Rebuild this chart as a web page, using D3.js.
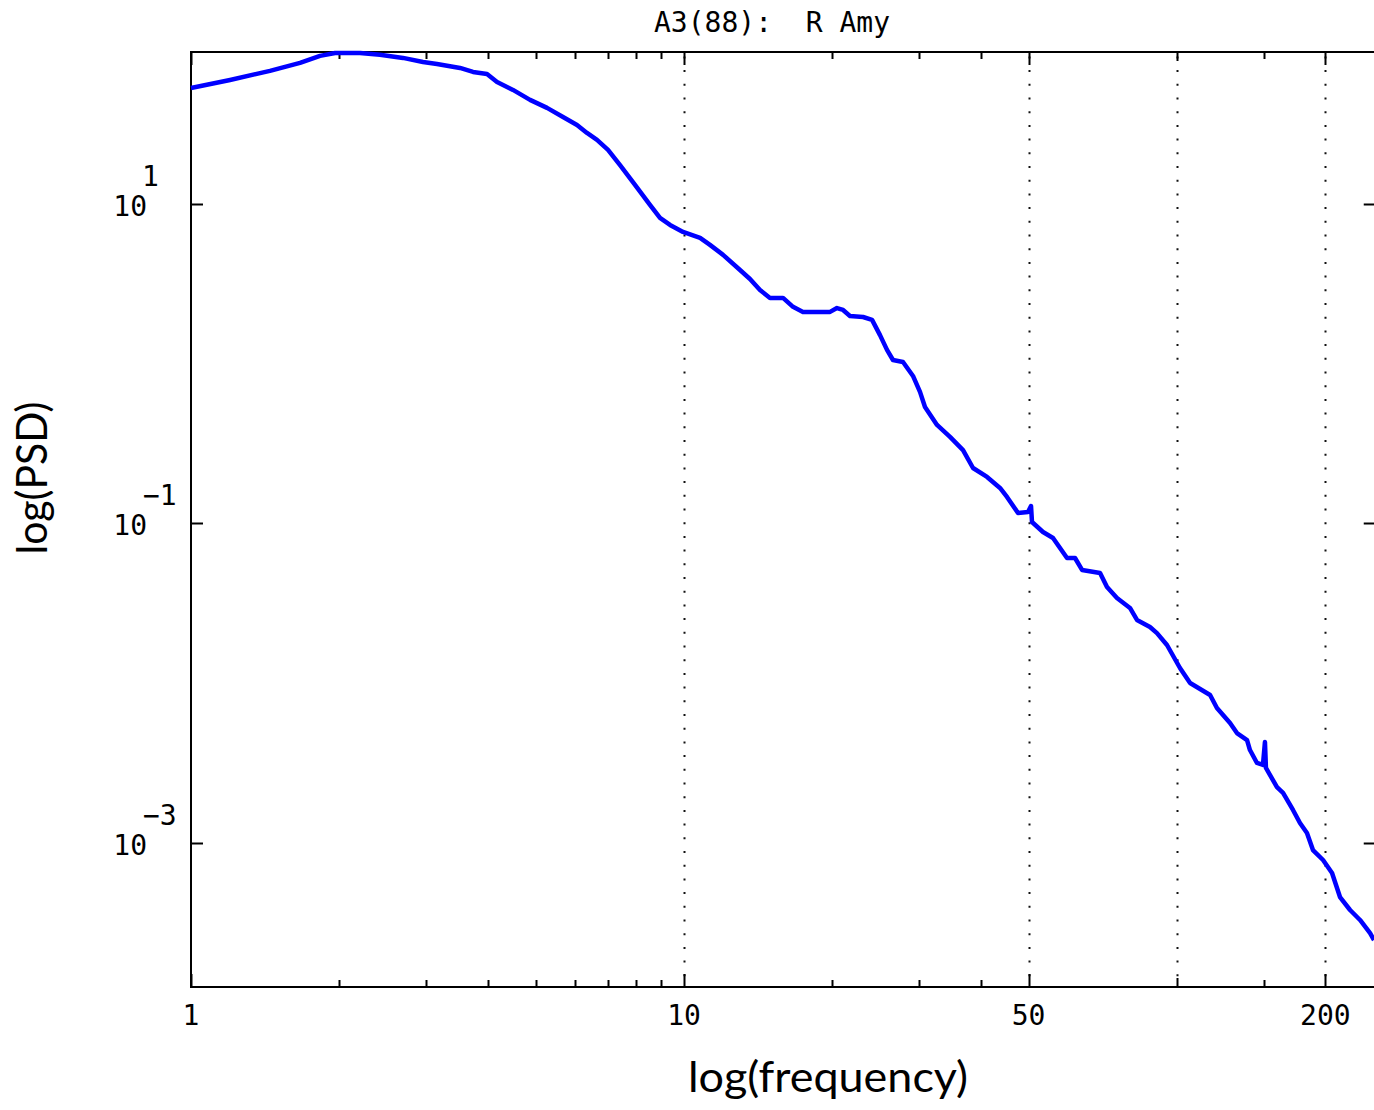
<!DOCTYPE html>
<html>
<head>
<meta charset="utf-8">
<script src="https://cdn.jsdelivr.net/npm/d3@7"></script>
<style>
  html, body { margin: 0; padding: 0; background: #fff; }
  svg { display: block; }
  .mono { font-family: "DejaVu Sans Mono", "Liberation Mono", monospace; fill: #000; }
  .lab { font-family: Lato, "Open Sans", sans-serif; fill: #000; }
</style>
</head>
<body>
<svg id="chart" width="1374" height="1110"></svg>
<script>
// ---- data ----
const titleText = "A3(88):  R Amy";
const xLabelText = "log(frequency)";
const yLabelText = "log(PSD)";

const xDomain = [1, 253];
const yDomain = [1.256e-4, 89.3];

const xLabeledTicks = [1, 10, 50, 200];
const xGridTicks = [10, 50, 100, 200];
const xMinorTicks = [2, 3, 4, 5, 6, 7, 8, 9, 20, 30, 40, 100, 150];
const yTicks = [10, 0.1, 0.001];

const freq = [1, 1.2, 1.446, 1.664, 1.827, 1.96, 2.202, 2.417, 2.692, 2.955,
  3.155, 3.513, 3.733, 3.985, 4.176, 4.499, 4.872, 5.275, 5.683, 6.067,
  6.357, 6.661, 7.013, 7.418, 7.955, 8.531, 8.939, 9.368, 9.954, 10.78,
  11.29, 12.0, 12.99, 13.61, 14.26, 14.94, 15.88, 16.64, 17.43, 19.78,
  20.43, 21.02, 21.71, 23.08, 24.07, 24.98, 25.81, 26.54, 27.81, 29.14,
  30.11, 30.82, 32.6, 34.64, 36.81, 38.57, 41.18, 43.75, 45.2, 47.59,
  49.87, 50.57, 50.8, 53.48, 56.04, 59.83, 62.11, 64.18, 69.81, 72.11,
  75.55, 80.28, 82.95, 88.14, 91.07, 95.43, 101.4, 106.3, 116.7, 120.5,
  128.1, 132.3, 138.7, 140.6, 145.3, 149.4, 150.8, 151.5, 159.5, 164.1,
  171.9, 177.6, 183.5, 188.7, 197.8, 206.3, 214.1, 224.4, 235.1, 246.4, 251.0];

const psd = [53.2, 59.7, 68.0, 76.3, 84.4, 88.1, 88.1, 85.7, 82.0, 77.4,
  75.2, 71.0, 67.0, 65.1, 58.0, 51.7, 44.8, 39.9, 35.0, 31.2,
  27.8, 25.2, 21.8, 17.5, 13.15, 9.86, 8.17, 7.39, 6.68, 6.13,
  5.54, 4.80, 3.86, 3.39, 2.89, 2.58, 2.58, 2.27, 2.11, 2.11,
  2.23, 2.17, 1.99, 1.96, 1.88, 1.51, 1.22, 1.055, 1.025, 0.838,
  0.666, 0.536, 0.414, 0.348, 0.288, 0.2225, 0.1955, 0.1668, 0.1465, 0.1163,
  0.118, 0.1287, 0.1022, 0.0885, 0.0811, 0.0608, 0.0608, 0.0512, 0.049, 0.04,
  0.0342, 0.0296, 0.0249, 0.0225, 0.0206, 0.01736, 0.01246, 0.01004, 0.00844, 0.0070,
  0.00564, 0.00488, 0.00441, 0.00382, 0.00317, 0.00308, 0.00429, 0.00295, 0.00224, 0.00206,
  0.00161, 0.001334, 0.001155, 0.000904, 0.000783, 0.000649, 0.000459, 0.000381, 0.00033, 0.000273, 0.000247];

// ---- drawing ----
(function () {
const svg = d3.select("#chart");
const pLeft = 191, pTop = 52, pBottom = 987;
const pRight = pLeft + 493 * Math.log10(xDomain[1]);

const x = d3.scaleLog().domain(xDomain).range([pLeft, pRight]);
const y = d3.scaleLog().domain(yDomain).range([pBottom, pTop]);

// dotted grid
svg.append("g").selectAll("line").data(xGridTicks).join("line")
  .attr("x1", d => Math.round(x(d)) + 0.5).attr("x2", d => Math.round(x(d)) + 0.5)
  .attr("y1", pBottom).attr("y2", pTop)
  .attr("stroke", "#111").attr("stroke-width", 2)
  .attr("stroke-dasharray", "2 11.7").attr("stroke-dashoffset", 3);

// ticks
const tickG = svg.append("g").attr("stroke", "#000").attr("stroke-width", 2);
function xTick(v, len) {
  const px = Math.round(x(v)) + 0.5;
  tickG.append("line").attr("x1", px).attr("x2", px).attr("y1", pBottom).attr("y2", pBottom - len);
  tickG.append("line").attr("x1", px).attr("x2", px).attr("y1", pTop).attr("y2", pTop + len);
}
xLabeledTicks.forEach(v => xTick(v, 13));
xMinorTicks.forEach(v => xTick(v, v === 100 ? 9 : 7));
yTicks.forEach(v => {
  const py = Math.round(y(v)) + 0.5;
  tickG.append("line").attr("x1", pLeft).attr("x2", pLeft + 12).attr("y1", py).attr("y2", py);
  tickG.append("line").attr("x1", pRight).attr("x2", pRight - 12).attr("y1", py).attr("y2", py);
});

// border
svg.append("rect").attr("x", pLeft).attr("y", pTop)
  .attr("width", pRight - pLeft).attr("height", pBottom - pTop)
  .attr("fill", "none").attr("stroke", "#000").attr("stroke-width", 2);

// x tick labels
svg.append("g").selectAll("text").data(xLabeledTicks).join("text")
  .attr("class", "mono").attr("font-size", 28)
  .attr("x", d => x(d)).attr("y", 1025).attr("text-anchor", "middle")
  .text(d => d);

// y tick labels (10 with superscript exponent)
const yl = svg.append("g");
yTicks.forEach(v => {
  const py = y(v);
  const e = Math.round(Math.log10(v));
  yl.append("text").attr("class", "mono").attr("font-size", 28)
    .attr("x", 147).attr("y", py + 12).attr("text-anchor", "end").text("10");
  yl.append("text").attr("class", "mono").attr("font-size", 28)
    .attr("x", e < 0 ? 143 : 142).attr("y", py - 18).attr("text-anchor", "start")
    .text(e < 0 ? "\u2212" + Math.abs(e) : String(e));
});

// curve
const pts = freq.map((f, i) => [f, psd[i]]);
svg.append("path").datum(pts)
  .attr("fill", "none").attr("stroke", "#0000ff").attr("stroke-width", 4.5)
  .attr("stroke-linejoin", "round")
  .attr("d", d3.line().x(d => x(d[0])).y(d => y(d[1])));

// title
svg.append("text").attr("class", "mono").attr("font-size", 28)
  .attr("x", 772).attr("y", 32).attr("text-anchor", "middle")
  .style("white-space", "pre").text(titleText);

// axis labels
svg.append("text").attr("class", "lab").attr("font-size", 42)
  .attr("x", 828).attr("y", 1092).attr("text-anchor", "middle")
  .attr("textLength", 280).attr("lengthAdjust", "spacingAndGlyphs")
  .text(xLabelText);
svg.append("text").attr("class", "lab").attr("font-size", 42)
  .attr("transform", "translate(47,478) rotate(-90)").attr("text-anchor", "middle")
  .attr("textLength", 153).attr("lengthAdjust", "spacingAndGlyphs")
  .text(yLabelText);
})();
</script>
</body>
</html>
